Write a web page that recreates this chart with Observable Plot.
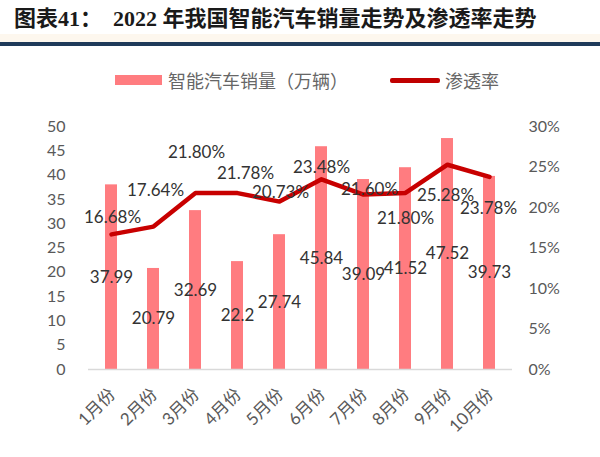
<!DOCTYPE html>
<html><head><meta charset="utf-8">
<script src="https://cdn.jsdelivr.net/npm/d3@7"></script>
<script src="https://cdn.jsdelivr.net/npm/@observablehq/plot@0.6"></script>
<style>
body{margin:0;background:#fff;width:600px;height:457px;overflow:hidden;position:relative;font-family:"Noto Sans CJK SC",sans-serif}
#title{position:absolute;left:14px;top:5px;font-weight:bold;font-size:22px;font-family:"Liberation Serif","Noto Sans CJK SC",serif;color:#1a1a1a;white-space:pre;line-height:28px}
#band{position:absolute;left:0;top:34px;width:600px;height:8px;background:#fdf7ee}
#rule{position:absolute;left:0;top:42px;width:600px;height:4px;background:#1f3a5a}
.leg{position:absolute;top:68px;font-size:18px;color:#666;line-height:24px}
.sw{position:absolute}
#chart{position:absolute;top:105px;left:0}
</style></head><body>
<div id="band"></div>
<div id="title">图表41：  2022 年我国智能汽车销量走势及渗透率走势</div>
<div id="rule"></div>
<div class="sw" style="left:115px;top:75px;width:47px;height:10px;background:#ff7c80"></div>
<div class="leg" style="left:168px">智能汽车销量（万辆）</div>
<div class="sw" style="left:390px;top:78px;width:50px;height:5px;background:#c00000;border-radius:2px"></div>
<div class="leg" style="left:445px">渗透率</div>
<div id="chart"></div>
<script>
const months = ["1月份","2月份","3月份","4月份","5月份","6月份","7月份","8月份","9月份","10月份"];
const sales = [37.99, 20.79, 32.69, 22.2, 27.74, 45.84, 39.09, 41.52, 47.52, 39.73];
const rate = [16.68, 17.64, 21.80, 21.78, 20.73, 23.48, 21.60, 21.80, 25.28, 23.78];
const salesTicks = [0,5,10,15,20,25,30,35,40,45,50];
const rateTicks = [0,5,10,15,20,25,30];

// label nudges (px) for the percentage labels, as placed in the reference
const pctDx = [1, 2, 1, 8, 1, 0, 6, 0, -2, -1];
const pctDy = [-17, -36, -40, -20, -9, -12, -5, 26, 31, 32];

const k = 50 / 30; // maps % onto left axis units
const data = months.map((m, i) => ({month: m, sales: sales[i], rate: rate[i]}));

const pctLabels = data.map((d, i) => Plot.text([d], {
  x: "month", y: v => v.rate * k, text: v => v.rate.toFixed(2) + "%",
  dx: pctDx[i], dy: pctDy[i], fontSize: 17, fill: "#333"
}));

const chart = Plot.plot({
  width: 600, height: 352,
  marginTop: 21, marginBottom: 88, marginLeft: 88, marginRight: 88,
  style: {fontFamily: "Lato, 'Noto Sans CJK SC', sans-serif", background: "transparent"},
  x: {domain: months, paddingInner: 0.72, paddingOuter: 0.36},
  y: {domain: [0, 50]},
  marks: [
    Plot.barY(data, {x: "month", y: "sales", fill: "#ff7c80"}),
    Plot.ruleY([0], {stroke: "#d9d9d9", strokeWidth: 1.5}),
    Plot.line(data, {x: "month", y: d => d.rate * k, stroke: "#c80000", strokeWidth: 4.5, strokeLinejoin: "round"}),
    Plot.text(data, {x: "month", y: d => d.sales / 2, text: d => String(d.sales), fontSize: 17, fill: "#333"}),
    ...pctLabels,
    Plot.axisY(salesTicks, {anchor: "left", tickSize: 0, tickPadding: 23, fontSize: 16, color: "#595959", label: null}),
    Plot.axisY(rateTicks.map(v => v * k), {anchor: "right", tickSize: 0, tickPadding: 16, fontSize: 16, color: "#595959", label: null,
      tickFormat: v => Math.round(v / k) + "%"}),
    Plot.axisX({tickRotate: -45, tickSize: 0, tickPadding: 22, dx: 1, fontSize: 17, color: "#595959", label: null})
  ]
});
document.getElementById("chart").appendChild(chart);
</script>
</body></html>
